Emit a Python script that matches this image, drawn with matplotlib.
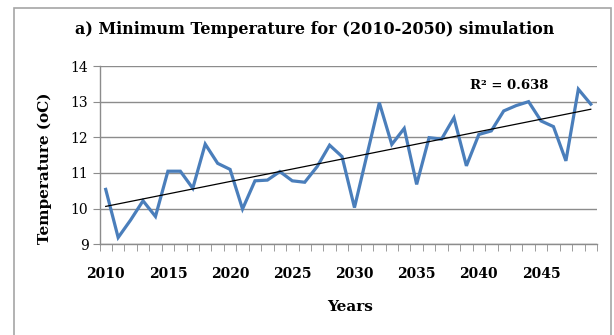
import matplotlib

matplotlib.use("Agg")
import matplotlib.pyplot as plt
import numpy as np
from matplotlib.patches import Rectangle

# minimum temperature simulation, one value per year
YEARS = list(range(2010, 2050))
TMIN = [10.54, 9.19, 9.68, 10.22, 9.78, 11.05, 11.05, 10.57, 11.81, 11.27,
        11.10, 9.99, 10.78, 10.80, 11.04, 10.78, 10.74, 11.18, 11.78, 11.46,
        10.03, 11.50, 12.97, 11.80, 12.25, 10.68, 11.99, 11.95, 12.55, 11.20,
        12.08, 12.18, 12.74, 12.89, 13.00, 12.46, 12.30, 11.34, 13.35, 12.93]
YTICKS = [9, 10, 11, 12, 13, 14]
XLABEL_YEARS = [2010, 2015, 2020, 2025, 2030, 2035, 2040, 2045]
R2_TEXT = "R\u00b2 = 0.638"

SERIF = "DejaVu Serif"
LINE_BLUE = "#4a7ebb"
GRID = "#8c8c8c"

fig = plt.figure(figsize=(6.14, 3.35), dpi=100)
fig.patches.append(Rectangle((14 / 614, -0.1), (611 - 14) / 614, 1.1 - 8 / 335,
                             transform=fig.transFigure, fill=False,
                             edgecolor="#a6a6a6", lw=1.2))
ax = fig.add_axes([99.5 / 614, 1 - 244.3 / 335, (597 - 99.5) / 614, (244.3 - 66) / 335])

# categories sit in the middle of each slot
xpos = np.arange(len(YEARS)) + 0.5
ax.plot(xpos, TMIN, color=LINE_BLUE, lw=2.3, solid_joinstyle="miter", zorder=3)

# linear trend
coef = np.polyfit(np.arange(len(YEARS)), TMIN, 1)
ax.plot(xpos, np.polyval(coef, np.arange(len(YEARS))), color="black", lw=0.9, zorder=4)

ax.set_xlim(0, len(YEARS))
ax.set_ylim(9, 14)
ax.set_yticks(YTICKS)
ax.set_yticklabels([str(t) for t in YTICKS], fontfamily=SERIF, fontsize=10)
ax.grid(axis="y", color=GRID, lw=1.0)
ax.set_axisbelow(True)

lab_idx = [YEARS.index(y) for y in XLABEL_YEARS]
ax.set_xticks(xpos[lab_idx])
ax.set_xticklabels([str(y) for y in XLABEL_YEARS], fontfamily=SERIF,
                   fontweight="bold", fontsize=10)
ax.set_xticks(np.arange(len(YEARS) + 1), minor=True)
ax.tick_params(axis="x", which="major", length=0, pad=16)
ax.tick_params(axis="x", which="minor", length=5, color=GRID, direction="out")
ax.tick_params(axis="y", length=5, color=GRID, pad=3)

for s in ["top", "right"]:
    ax.spines[s].set_visible(False)
for s in ["left", "bottom"]:
    ax.spines[s].set_color(GRID)
    ax.spines[s].set_linewidth(1.0)

ax.text(29.8, 13.45, R2_TEXT, fontfamily=SERIF, fontweight="bold", fontsize=9.5,
        ha="left", va="center")

fig.text(315 / 614, 1 - 30 / 335, "a) Minimum Temperature for (2010-2050) simulation",
         fontfamily=SERIF, fontweight="bold", fontsize=11.5, ha="center", va="center")
fig.text(350 / 614, 1 - 307 / 335, "Years", fontfamily=SERIF, fontweight="bold",
         fontsize=11, ha="center", va="center")
fig.text(45 / 614, 1 - 168 / 335, "Temperature (oC)", fontfamily=SERIF,
         fontweight="bold", fontsize=11, ha="center", va="center", rotation=90)

fig.savefig("out.png", dpi=100)
